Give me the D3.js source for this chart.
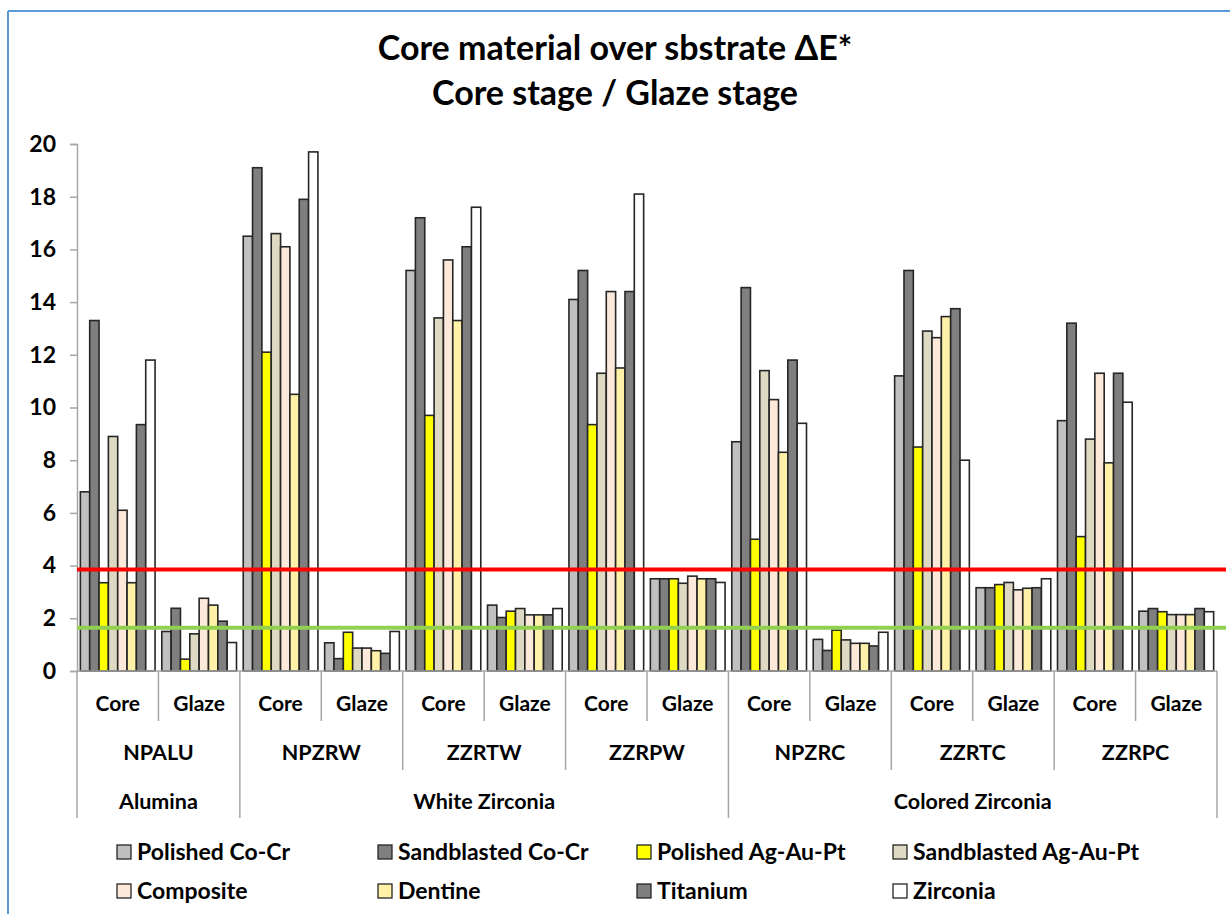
<!DOCTYPE html>
<html>
<head>
<meta charset="utf-8">
<script src="https://cdn.jsdelivr.net/npm/d3@7"></script>
<style>
  html, body { margin: 0; padding: 0; background: #ffffff; }
  svg { display: block; font-family: Lato, "Open Sans", sans-serif; }
</style>
</head>
<body>
<svg id="chart" width="1230" height="914"></svg>
<script>
// ---------- data ----------
const titleLines = ["Core material over sbstrate \u0394E*", "Core stage / Glaze stage"];
const stages = ["Core", "Glaze"];
const groups = ["NPALU", "NPZRW", "ZZRTW", "ZZRPW", "NPZRC", "ZZRTC", "ZZRPC"];
const superNames = ["Alumina", "White Zirconia", "Colored Zirconia"];
const superCounts = [1, 3, 3];
const yTicks = [0, 2, 4, 6, 8, 10, 12, 14, 16, 18, 20];
const seriesNames = ["Polished Co-Cr", "Sandblasted Co-Cr", "Polished Ag-Au-Pt", "Sandblasted Ag-Au-Pt",
                     "Composite", "Dentine", "Titanium", "Zirconia"];
const seriesColors = ["#c0c0c0", "#7f7f7f", "#ffff00", "#ddd9c3", "#fde9d9", "#fff2a8", "#7f7f7f", "#ffffff"];
// values: [NPALU Core, NPALU Glaze, NPZRW Core, NPZRW Glaze, ...]
const polishedCoCr    = [6.8, 1.5, 16.5, 1.07, 15.2, 2.5, 14.1, 3.5, 8.7, 1.2, 11.2, 3.16, 9.5, 2.27];
const sandblastedCoCr = [13.3, 2.38, 19.1, 0.47, 17.2, 2.03, 15.2, 3.5, 14.55, 0.78, 15.2, 3.16, 13.2, 2.37];
const polishedAg      = [3.35, 0.45, 12.1, 1.47, 9.7, 2.27, 9.35, 3.5, 5.0, 1.55, 8.5, 3.28, 5.1, 2.25];
const sandblastedAg   = [8.9, 1.41, 16.6, 0.87, 13.4, 2.37, 11.3, 3.33, 11.4, 1.18, 12.9, 3.36, 8.8, 2.14];
const composite       = [6.1, 2.76, 16.1, 0.87, 15.6, 2.13, 14.4, 3.6, 10.3, 1.05, 12.65, 3.08, 11.3, 2.14];
const dentine         = [3.35, 2.5, 10.5, 0.77, 13.3, 2.13, 11.5, 3.5, 8.3, 1.05, 13.45, 3.14, 7.9, 2.14];
const titanium        = [9.35, 1.89, 17.9, 0.67, 16.1, 2.13, 14.4, 3.5, 11.8, 0.95, 13.75, 3.16, 11.3, 2.37];
const zirconia        = [11.8, 1.08, 19.7, 1.5, 17.6, 2.37, 18.1, 3.36, 9.4, 1.47, 8.0, 3.5, 10.2, 2.25];
const seriesValues = [polishedCoCr, sandblastedCoCr, polishedAg, sandblastedAg, composite, dentine, titanium, zirconia];
const thresholdRed = 3.85;
const thresholdGreen = 1.64;

// ---------- layout ----------
const svg = d3.select("#chart");
const plotL = 77, plotR = 1217, plotT = 144, plotB = 671;

const subcats = [];
groups.forEach(g => stages.forEach(s => subcats.push(g + "|" + s)));

const x = d3.scaleBand().domain(subcats).range([plotL, plotR]).paddingInner(0).paddingOuter(0);
const xInner = d3.scaleBand().domain(seriesNames).range([0, x.bandwidth()]).paddingOuter(0.36).paddingInner(0);
const y = d3.scaleLinear().domain([0, 20]).range([plotB, plotT]);

// frame lines (blue)
svg.append("line").attr("x1", 8).attr("x2", 1230).attr("y1", 11).attr("y2", 11)
  .attr("stroke", "#5b9bd5").attr("stroke-width", 2);
svg.append("line").attr("x1", 8).attr("x2", 8).attr("y1", 11).attr("y2", 914)
  .attr("stroke", "#5b9bd5").attr("stroke-width", 2);

// title
svg.append("text").attr("x", 615).attr("y", 60).attr("text-anchor", "middle")
  .attr("font-size", 34).attr("font-weight", "bold").attr("fill", "#000").text(titleLines[0]);
svg.append("text").attr("x", 615).attr("y", 105).attr("text-anchor", "middle")
  .attr("font-size", 34).attr("font-weight", "bold").attr("fill", "#000").text(titleLines[1]);

// y axis
const yAxis = d3.axisLeft(y).tickValues(yTicks).tickSize(7).tickPadding(14);
const gy = svg.append("g").attr("transform", `translate(${plotL},0)`).call(yAxis);
gy.select(".domain").attr("stroke", "#a6a6a6").attr("stroke-width", 1.5);
gy.selectAll(".tick line").attr("stroke", "#a6a6a6").attr("stroke-width", 1.5);
gy.selectAll(".tick text").attr("font-size", 23).attr("font-weight", "bold")
  .attr("fill", "#000").attr("font-family", "Lato, sans-serif");

// bars
const barData = [];
seriesNames.forEach((name, si) => {
  seriesValues[si].forEach((v, ci) => barData.push({ name, si, cat: subcats[ci], v }));
});
svg.append("g").selectAll("rect").data(barData).join("rect")
  .attr("x", d => x(d.cat) + xInner(d.name))
  .attr("y", d => y(d.v))
  .attr("width", xInner.bandwidth())
  .attr("height", d => y(0) - y(d.v))
  .attr("fill", d => seriesColors[d.si])
  .attr("stroke", "#262626")
  .attr("stroke-width", 1.6);

// x axis baseline
svg.append("line").attr("x1", plotL).attr("x2", plotR).attr("y1", plotB).attr("y2", plotB)
  .attr("stroke", "#a6a6a6").attr("stroke-width", 1.5);

// threshold lines
svg.append("line").attr("x1", plotL).attr("x2", 1226).attr("y1", y(thresholdRed)).attr("y2", y(thresholdRed))
  .attr("stroke", "#ff0000").attr("stroke-width", 4);
svg.append("line").attr("x1", plotL).attr("x2", 1226).attr("y1", y(thresholdGreen)).attr("y2", y(thresholdGreen))
  .attr("stroke", "#92d050").attr("stroke-width", 4);

// hierarchical x labels
const sepColor = "#a6a6a6";
const gx = svg.append("g");
const row1 = 721, row2 = 770, row3 = 818;
subcats.forEach(c => {
  gx.append("text").attr("x", x(c) + x.bandwidth() / 2).attr("y", 711).attr("text-anchor", "middle")
    .attr("font-size", 21).attr("font-weight", "bold").attr("fill", "#000").text(c.split("|")[1]);
});
groups.forEach(g => {
  const xs = x(g + "|Glaze");
  gx.append("line").attr("x1", xs).attr("x2", xs).attr("y1", plotB).attr("y2", row1)
    .attr("stroke", sepColor).attr("stroke-width", 1.5);
});
groups.forEach(g => {
  const x0 = x(g + "|Core"), x1 = x(g + "|Glaze") + x.bandwidth();
  gx.append("text").attr("x", (x0 + x1) / 2).attr("y", 760).attr("text-anchor", "middle")
    .attr("font-size", 21.5).attr("font-weight", "bold").attr("fill", "#000").text(g);
});
let gi = 0;
const superBounds = [plotL];
superCounts.forEach(n => { gi += n; superBounds.push(x(subcats[gi * 2 - 1]) + x.bandwidth()); });
groups.forEach(g => {
  const xs = x(g + "|Core");
  const isSuper = superBounds.some(b => Math.abs(b - xs) < 0.5);
  gx.append("line").attr("x1", xs).attr("x2", xs).attr("y1", plotB).attr("y2", isSuper ? row3 : row2)
    .attr("stroke", sepColor).attr("stroke-width", 1.5);
});
gx.append("line").attr("x1", plotR).attr("x2", plotR).attr("y1", plotB).attr("y2", row3)
  .attr("stroke", sepColor).attr("stroke-width", 1.5);
superNames.forEach((n, i) => {
  gx.append("text").attr("x", (superBounds[i] + superBounds[i + 1]) / 2).attr("y", 809).attr("text-anchor", "middle")
    .attr("font-size", 21.5).attr("font-weight", "bold").attr("fill", "#000").text(n);
});

// legend
const legX = [117, 378, 637, 893];
const legY = [852, 891];
const lg = svg.append("g");
seriesNames.forEach((n, i) => {
  const cx = legX[i % 4], cy = legY[Math.floor(i / 4)];
  lg.append("rect").attr("x", cx).attr("y", cy - 7).attr("width", 14).attr("height", 14)
    .attr("fill", seriesColors[i]).attr("stroke", "#262626").attr("stroke-width", 1.3);
  lg.append("text").attr("x", cx + 20).attr("y", cy + 8).attr("font-size", 23).attr("font-weight", "bold")
    .attr("fill", "#000").text(n);
});
</script>
</body>
</html>
